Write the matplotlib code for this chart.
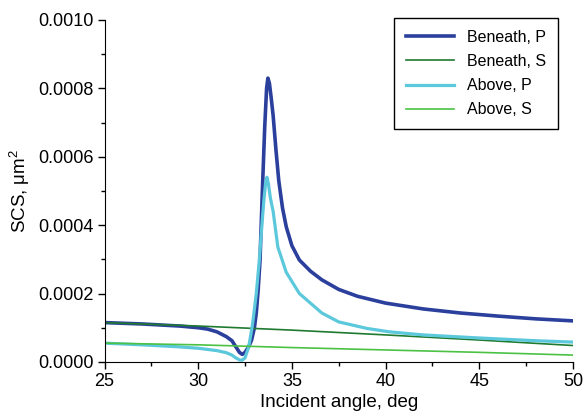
import matplotlib
matplotlib.use("Agg")
import matplotlib.pyplot as plt
from matplotlib.ticker import MultipleLocator, FormatStrFormatter

plt.rcParams["font.family"] = ["Liberation Sans", "DejaVu Sans"]

# Beneath, P (values in 1e-6 um^2)
bp_x = [25, 26, 27, 28, 29, 30, 30.5, 31, 31.5, 31.8, 32.0, 32.2, 32.35, 32.5,
        32.7, 32.85, 33.0, 33.1, 33.2, 33.3, 33.42, 33.55, 33.65, 33.72, 33.8,
        33.9, 34.0, 34.15, 34.3, 34.5, 34.7, 35.0, 35.4, 36.0, 36.6, 37.5, 38.5,
        40, 42, 44, 46, 48, 50]
bp_y = [115, 113, 111, 108, 105, 100, 96, 88, 74, 62, 45, 28, 22, 28,
        45, 64, 100, 143, 210, 298, 494, 687, 800, 830, 815,
        770, 720, 620, 530, 450, 395, 340, 298, 265, 240, 212, 192,
        172, 155, 143, 134, 126, 120]

# Above, P
ap_x = [25, 27, 29, 30, 31, 31.5, 31.8, 32.0, 32.2, 32.35, 32.5, 32.7, 32.9,
        33.1, 33.25, 33.4, 33.5, 33.6, 33.67, 33.75, 33.85, 34.0, 34.25, 34.7,
        35.4, 36.6, 37.5, 39, 40.2, 42, 45, 48, 50]
ap_y = [55, 50, 44, 40, 33, 27, 20, 12, 6, 5, 12, 45, 110,
        200, 290, 400, 470, 525, 540, 520, 480, 440, 336, 262,
        200, 143, 117, 98, 88, 79, 70, 62, 58]

# S polarisation, both positions
s_x = [25, 30, 35, 40, 45, 50]
bs_y = [115, 105, 93, 79, 64, 48]
as_y = [55, 50, 42, 35, 28, 20]

fig = plt.figure(figsize=(5.84, 4.16), dpi=100)
ax = fig.add_axes([0.179, 0.13, 0.802, 0.822])

ax.plot(bp_x, [v * 1e-6 for v in bp_y], color="#2b3f9c", lw=2.6, label="Beneath, P")
ax.plot(s_x, [v * 1e-6 for v in bs_y], color="#1f7a30", lw=1.2, label="Beneath, S")
ax.plot(ap_x, [v * 1e-6 for v in ap_y], color="#5cc8dc", lw=2.3, label="Above, P")
ax.plot(s_x, [v * 1e-6 for v in as_y], color="#4cc244", lw=1.2, label="Above, S")

ax.set_xlim(25, 50)
ax.set_ylim(0, 0.001)
ax.xaxis.set_major_locator(MultipleLocator(5))
ax.xaxis.set_minor_locator(MultipleLocator(2.5))
ax.yaxis.set_major_locator(MultipleLocator(0.0002))
ax.yaxis.set_minor_locator(MultipleLocator(0.0001))
ax.yaxis.set_major_formatter(FormatStrFormatter("%.4f"))

for side in ("top", "right"):
    ax.spines[side].set_visible(False)
ax.tick_params(which="major", direction="out", length=5, width=1, labelsize=13, pad=3)
ax.tick_params(which="minor", direction="out", length=3, width=1)

ax.set_xlabel("Incident angle, deg", fontsize=13.5, labelpad=3)
ax.set_ylabel("SCS, $\\mathregular{\\mu m^2}$", fontsize=13.5, labelpad=4)

leg = ax.legend(loc="upper right", bbox_to_anchor=(0.985, 1.03), fontsize=11.5,
                handlelength=3.0, fancybox=False, edgecolor="black",
                framealpha=1, borderpad=0.75, labelspacing=0.58)
leg.get_frame().set_linewidth(1)

fig.savefig("out.png", dpi=100)
